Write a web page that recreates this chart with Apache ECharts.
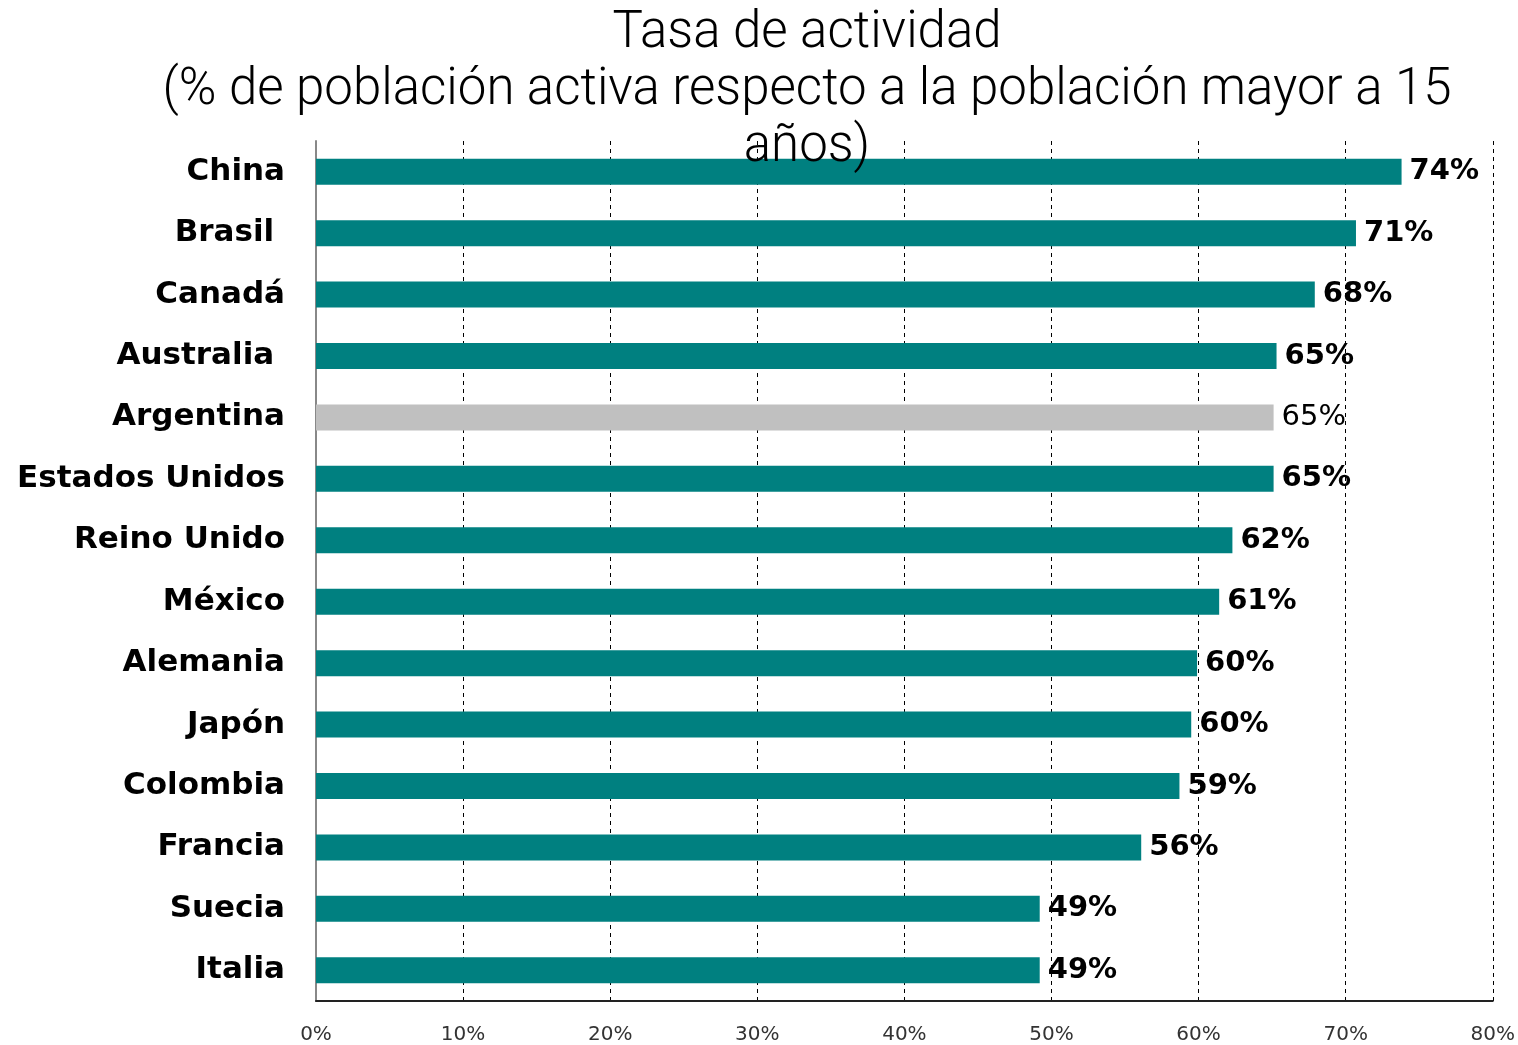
<!DOCTYPE html>
<html>
<head>
<meta charset="utf-8">
<script src="https://cdn.jsdelivr.net/npm/echarts@6/dist/echarts.min.js"></script>
<style>
    html, body { margin: 0; padding: 0; background: #fff; }
    #chart { width: 1518px; height: 1045px; }
</style>
</head>
<body>
<div id="chart"></div>
<script>
const countries = ['China', 'Brasil ', 'Canadá', 'Australia ', 'Argentina', 'Estados Unidos', 'Reino Unido',
    'México', 'Alemania', 'Japón', 'Colombia', 'Francia', 'Suecia', 'Italia'];
const rates = [73.8, 70.7, 67.9, 65.3, 65.1, 65.1, 62.3, 61.4, 59.9, 59.5, 58.7, 56.1, 49.2, 49.2];
const highlight = 'Argentina';
const xTicks = [0, 10, 20, 30, 40, 50, 60, 70, 80];

const teal = '#008080';
const grey = '#c0c0c0';

const chart = echarts.init(document.getElementById('chart'));

const barData = countries.map((name, i) => {
    const isHl = name === highlight;
    return {
        value: rates[i],
        itemStyle: { color: isHl ? grey : teal },
        label: isHl ? { fontWeight: 'normal' } : {},
    };
});

chart.setOption({
    animation: false,
    title: {
        text: 'Tasa de actividad\n(% de población activa respecto a la población mayor a 15\naños)',
        left: 802,
        textAlign: 'center',
        top: 1,
        textStyle: {
            fontFamily: 'Roboto',
            fontWeight: 300,
            fontSize: 51,
            lineHeight: 57,
            color: '#000',
        },
    },
    grid: {
        left: 316,
        right: 24,
        top: 141,
        bottom: 42,
        containLabel: false,
    },
    xAxis: {
        type: 'value',
        min: xTicks[0],
        max: xTicks[xTicks.length - 1],
        interval: 10,
        axisLine: { show: true, lineStyle: { color: '#222', width: 2 } },
        axisTick: { show: false },
        axisLabel: {
            formatter: '{value}%',
            fontFamily: 'DejaVu Sans',
            fontSize: 20,
            color: '#333',
            margin: 24,
        },
        splitLine: {
            show: true,
            lineStyle: { color: '#000', type: [4, 4], width: 1 },
        },
    },
    yAxis: {
        type: 'category',
        data: countries,
        inverse: true,
        axisLine: { show: true, lineStyle: { color: '#888', width: 2 } },
        axisTick: { show: false },
        axisLabel: {
            fontFamily: 'DejaVu Sans',
            fontWeight: 'bold',
            fontSize: 31,
            color: '#000',
            margin: 31,
        },
    },
    series: [
        {
            type: 'bar',
            data: barData,
            barWidth: 26,
            label: {
                show: true,
                position: 'right',
                distance: 8,
                formatter: (p) => Math.round(p.value) + '%',
                fontFamily: 'DejaVu Sans',
                fontWeight: 'bold',
                fontSize: 29,
                color: '#000',
            },
        },
    ],
});
</script>
</body>
</html>
